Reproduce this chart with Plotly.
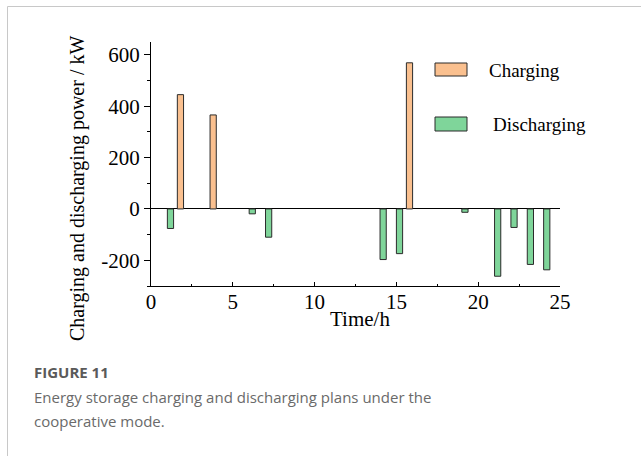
import plotly.graph_objects as go

# Hourly storage schedule (kW): positive = charging, negative = discharging
charge_hours = [2, 4, 16]
charge_power = [445, 366, 569]
discharge_hours = [1, 6, 7, 14, 15, 19, 21, 22, 23, 24]
discharge_power = [-76, -19, -110, -197, -174, -13, -262, -72, -216, -237]

x_ticks = [0, 5, 10, 15, 20, 25]
y_ticks = [-200, 0, 200, 400, 600]
y_tick_text = ["-200", "0", "200", "400", "600"]

CHARGE_COLOR = "#FAC08F"
DISCHARGE_COLOR = "#7FD59A"
EDGE = "#2b2b2b"
SERIF = "Liberation Serif, Times New Roman, serif"
BAR_W = 0.38

W, H = 641, 456
ML, MR, MT, MB = 151, 81, 42, 170
PW, PH = W - ML - MR, H - MT - MB


def px(x):
    return (x - ML) / PW


def py(y):
    return (H - MB - y) / PH


fig = go.Figure()
# charging bars sit just left of the hour mark, discharging bars just right of it
fig.add_trace(go.Bar(x=charge_hours, y=charge_power, name="Charging",
                     width=BAR_W, offset=-BAR_W - 0.01,
                     marker=dict(color=CHARGE_COLOR, line=dict(color=EDGE, width=1))))
fig.add_trace(go.Bar(x=discharge_hours, y=discharge_power, name="Discharging",
                     width=BAR_W, offset=0.0,
                     marker=dict(color=DISCHARGE_COLOR, line=dict(color=EDGE, width=1))))

fig.update_layout(
    width=W, height=H,
    margin=dict(l=ML, r=MR, t=MT, b=MB),
    paper_bgcolor="white", plot_bgcolor="white",
    barmode="overlay",
    showlegend=False,
    font=dict(family=SERIF, color="black", size=21),
)

fig.update_xaxes(
    range=[0, 25], tickvals=x_ticks, showgrid=False, zeroline=False,
    showline=True, linecolor="black", linewidth=1,
    ticks="inside", ticklen=4, tickcolor="black", ticklabelstandoff=-3,
    minor=dict(ticks="inside", ticklen=2, dtick=2.5, tickcolor="black"),
    tickfont=dict(family=SERIF, size=21, color="black"),
)
fig.update_yaxes(
    range=[-300, 650], tickvals=y_ticks, ticktext=y_tick_text,
    showgrid=False, zeroline=True, zerolinecolor="black", zerolinewidth=1,
    showline=True, linecolor="black", linewidth=1,
    ticks="outside", ticklen=6, tickcolor="black",
    minor=dict(ticks="outside", ticklen=3, tickvals=[-300, -100, 100, 300, 500], tickcolor="black"),
    tickfont=dict(family=SERIF, size=21, color="black"),
)

shapes = [
    # card frame
    dict(type="line", xref="paper", yref="paper", x0=px(7.5), x1=px(W + 5), y0=py(6.5), y1=py(6.5),
         line=dict(color="#c8c8c8", width=1)),
    dict(type="line", xref="paper", yref="paper", x0=px(7.5), x1=px(7.5), y0=py(6.5), y1=py(H + 5),
         line=dict(color="#c8c8c8", width=1)),
    # legend swatches
    dict(type="rect", xref="paper", yref="paper", x0=px(435), x1=px(467), y0=py(63), y1=py(76),
         fillcolor=CHARGE_COLOR, line=dict(color=EDGE, width=1)),
    dict(type="rect", xref="paper", yref="paper", x0=px(435), x1=px(467), y0=py(117), y1=py(131),
         fillcolor=DISCHARGE_COLOR, line=dict(color=EDGE, width=1)),
]
fig.update_layout(shapes=shapes)

annotations = [
    dict(text="Charging", x=px(487), y=py(70), xanchor="left", yanchor="middle",
         font=dict(family=SERIF, size=19, color="black")),
    dict(text="Discharging", x=px(491), y=py(124), xanchor="left", yanchor="middle",
         font=dict(family=SERIF, size=19, color="black")),
    dict(text="Time/h", x=px(360), y=py(319), xanchor="center", yanchor="middle",
         font=dict(family=SERIF, size=21, color="black")),
    dict(text="Charging and discharging power / kW", x=px(77), y=py(189), textangle=-90,
         xanchor="center", yanchor="middle", font=dict(family=SERIF, size=20, color="black")),
    dict(text="<b>FIGURE 11</b>", x=px(32), y=py(372), xanchor="left", yanchor="middle",
         font=dict(family="Open Sans, sans-serif", size=15, color="#5a5a5a")),
    dict(text="Energy storage charging and discharging plans under the", x=px(32), y=py(397),
         xanchor="left", yanchor="middle", font=dict(family="Open Sans, sans-serif", size=15, color="#6a6a6a")),
    dict(text="cooperative mode.", x=px(32), y=py(421),
         xanchor="left", yanchor="middle", font=dict(family="Open Sans, sans-serif", size=15, color="#6a6a6a")),
]
for a in annotations:
    a.update(xref="paper", yref="paper", showarrow=False)
fig.update_layout(annotations=annotations)

fig.write_html("out.html")
